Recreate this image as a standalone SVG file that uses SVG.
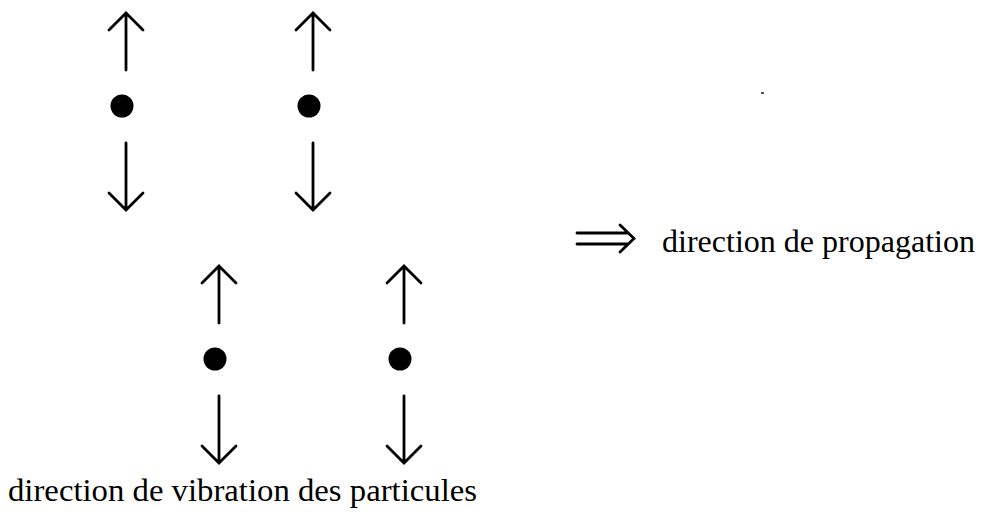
<svg xmlns="http://www.w3.org/2000/svg" width="984" height="514" viewBox="0 0 984 514">
<style>
.ar{fill:none;stroke:#000;stroke-width:2.8;stroke-linecap:round;stroke-linejoin:miter}
.dot{fill:#000}
.t{font-family:"Liberation Serif","Times New Roman",serif;font-size:32px;fill:#000}
</style>
<defs>
<g id="part">
<path class="ar" d="M0,13 V70 M-17,30 L0,13 L17,30"/>
<circle class="dot" cx="-4" cy="106" r="11.5"/>
<path class="ar" d="M0,143 V210 M-17,193 L0,210 L17,193"/>
</g>
</defs>
<rect width="984" height="514" fill="#fff"/>
<g id="p1"><use href="#part" x="126" y="0"/></g>
<g id="p2"><use href="#part" x="313" y="0"/></g>
<g id="p3"><use href="#part" x="219" y="253"/></g>
<g id="p4"><use href="#part" x="404" y="253"/></g>
<g id="connectors">
<path class="ar" d="M577,233 H628 M577,244 H628 M620,225 L634,238.5 L620,252" stroke-width="3.4"/>
</g>
<g id="labels">
<text class="t" x="662" y="252" textLength="313" lengthAdjust="spacingAndGlyphs">direction de propagation</text>
<text class="t" x="8" y="501" textLength="469" lengthAdjust="spacingAndGlyphs">direction de vibration des particules</text>
</g>
<rect x="761" y="92" width="3" height="2" fill="#555"/>
</svg>
